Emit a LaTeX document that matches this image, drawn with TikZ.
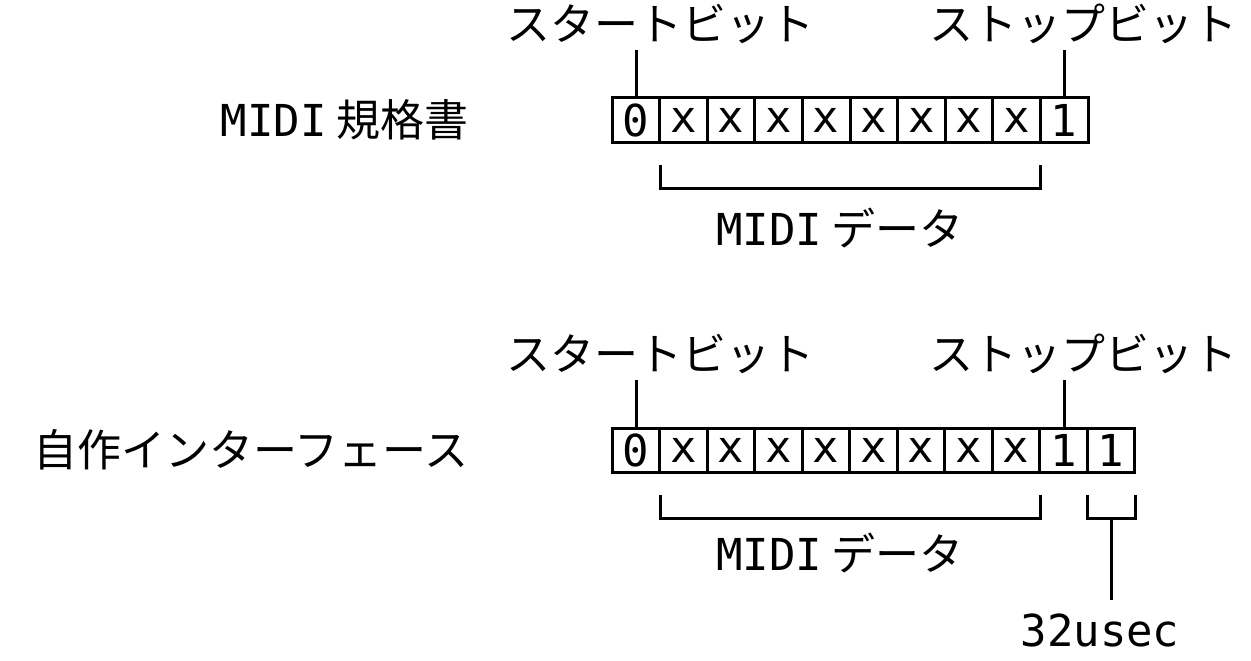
\documentclass[tikz,border=0pt]{standalone}
\usepackage{fontspec}
\setmainfont{Noto Sans CJK JP}
\newfontfamily\mono{DejaVu Sans Mono}
\begin{document}
\begin{tikzpicture}[x=1pt,y=-1pt,line width=3pt,
  lbl/.style={inner sep=0pt,font=\fontsize{44}{48}\selectfont},
  cell/.style={draw,line width=3pt,minimum width=47.6pt,minimum height=44pt,inner sep=0pt,font=\mono\fontsize{44}{48}\selectfont}]
\useasboundingbox (0,0) rectangle (1251,661);
% top row
\foreach \t [count=\i from 0] in {0,x,x,x,x,x,x,x,x,1}
  \node[cell] (a\i) at (612+23.8+47.6*\i,120) {\t};
\node[lbl] (as) at (660,24) {スタートビット};
\node[lbl] (ap) at (1083,24) {ストップビット};
\node[lbl,anchor=east] (at) at (470,120) {{\mono MIDI} 規格書};
\draw (636,50) -- (a0.north -| 636,0);
\draw (1064,50) -- (a9.north -| 1064,0);
\coordinate (b1) at (660,165); \coordinate (b2) at (1040,165);
\draw (b1) -- ++(0,23) -| (b2);
\node[lbl] (ad) at (840,228) {{\mono MIDI} データ};
% bottom row
\foreach \t [count=\i from 0] in {0,x,x,x,x,x,x,x,x,1,1}
  \node[cell] (c\i) at (612+23.8+47.5*\i,450) {\t};
\node[lbl] (cs) at (660,354) {スタートビット};
\node[lbl] (cp) at (1083,354) {ストップビット};
\node[lbl,anchor=east] (ct) at (470,450) {自作インターフェース};
\draw (636,380) -- (c0.north -| 636,0);
\draw (1064,380) -- (c9.north -| 1064,0);
\coordinate (d1) at (660,495); \coordinate (d2) at (1040,495);
\draw (d1) -- ++(0,23) -| (d2);
\node[lbl] (cd) at (840,553) {{\mono MIDI} データ};
\coordinate (e1) at (1087,495); \coordinate (e2) at (1135,495);
\draw (e1) -- ++(0,23) -| (e2);
\node[lbl,font=\mono\fontsize{44}{48}\selectfont] (us) at (1100,630) {32usec};
\draw (1111,518) -- (1111,600);
\end{tikzpicture}
\end{document}
